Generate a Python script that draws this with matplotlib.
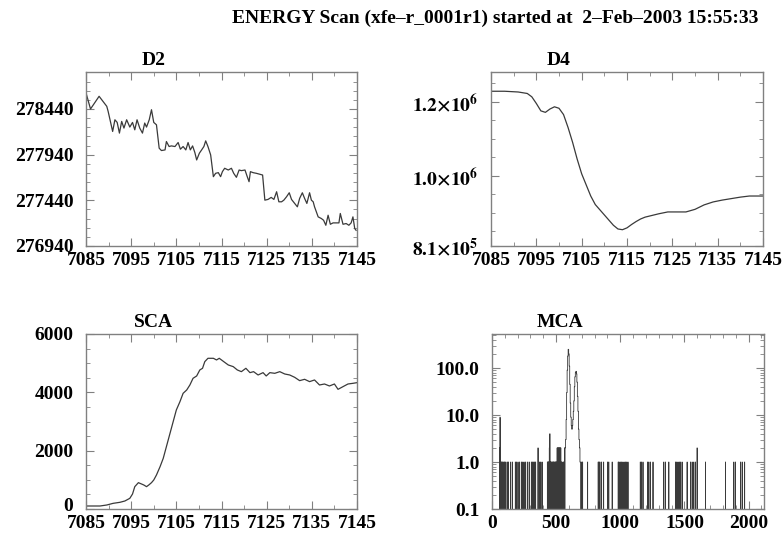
import numpy as np
import matplotlib
matplotlib.use("Agg")
import matplotlib.pyplot as plt
import matplotlib.transforms as mtransforms
from matplotlib.ticker import MultipleLocator, FixedLocator, FixedFormatter, LogLocator, NullFormatter

plt.rcParams["font.family"] = ["Liberation Serif", "DejaVu Serif"]
plt.rcParams["font.weight"] = "bold"
plt.rcParams["mathtext.fontset"] = "stix"

# -----------------------------
# Data
# -----------------------------
d2_energy = [7085.0, 7086.0, 7087.9, 7089.6, 7089.9, 7090.9, 7091.4, 7091.9, 7092.4, 7092.9,
             7093.4, 7094.0, 7094.7, 7095.3, 7095.8, 7096.3, 7096.9, 7097.5, 7098.0, 7098.4,
             7099.0, 7099.5, 7100.0, 7100.6, 7101.2, 7101.7, 7102.5, 7102.8, 7103.4, 7103.9,
             7104.7, 7105.4, 7105.9, 7106.5, 7107.1, 7107.6, 7108.1, 7108.6, 7109.1, 7109.5,
             7110.1, 7110.6, 7111.1, 7111.5, 7112.0, 7112.6, 7113.2, 7113.7, 7114.3, 7114.8,
             7115.2, 7115.7, 7116.5, 7117.2, 7117.7, 7118.3, 7118.9, 7119.4, 7120.2, 7120.7,
             7121.1, 7121.4, 7122.0, 7122.7, 7123.3, 7124.1, 7124.6, 7125.3, 7126.0, 7126.6,
             7127.2, 7127.7, 7128.3, 7128.8, 7129.4, 7130.0, 7130.5, 7131.2, 7131.8, 7132.3,
             7132.9, 7133.4, 7133.9, 7134.5, 7134.9, 7135.3, 7135.6, 7136.4, 7137.1, 7137.6,
             7138.1, 7138.6, 7139.1, 7139.7, 7140.4, 7141.0, 7141.3, 7141.9, 7142.6, 7143.2,
             7143.7, 7144.1, 7144.5, 7144.8]
d2_counts = [278616, 278440, 278579, 278469, 278414, 278194, 278322, 278293, 278176, 278304,
             278231, 278322, 278242, 278293, 278212, 278322, 278231, 278176, 278286, 278242,
             278322, 278432, 278293, 278267, 278011, 277985, 277992, 278084, 278029, 278036,
             278029, 278073, 278000, 278029, 277992, 278073, 277992, 278036, 277963, 277882,
             277956, 277992, 278029, 278091, 278029, 277937, 277699, 277736, 277743, 277699,
             277754, 277791, 277772, 277791, 277736, 277692, 277772, 277765, 277772, 277699,
             277644, 277754, 277743, 277736, 277728, 277717, 277442, 277450, 277472, 277450,
             277534, 277424, 277424, 277442, 277479, 277523, 277450, 277406, 277369, 277461,
             277523, 277461, 277406, 277523, 277442, 277424, 277369, 277259, 277241, 277222,
             277167, 277277, 277178, 277193, 277193, 277193, 277296, 277178, 277186, 277167,
             277193, 277259, 277131, 277112]

d4_energy = [7085, 7088, 7091, 7093, 7094, 7095, 7096, 7097, 7098, 7099,
             7100, 7101, 7102, 7103, 7104, 7105, 7106, 7107, 7108, 7109,
             7110, 7111, 7112, 7113, 7114, 7115, 7116, 7117, 7118, 7119,
             7120, 7122, 7124, 7126, 7128, 7130, 7132, 7134, 7136, 7138,
             7140, 7142, 7145]
d4_counts = [1.228e6, 1.228e6, 1.226e6, 1.222e6, 1.213e6, 1.195e6, 1.175e6, 1.171e6, 1.180e6, 1.186e6,
             1.182e6, 1.165e6, 1.130e6, 1.090e6, 1.045e6, 1.005e6, 0.975e6, 0.945e6, 0.922e6, 0.908e6,
             0.894e6, 0.880e6, 0.866e6, 0.856e6, 0.854e6, 0.859e6, 0.868e6, 0.876e6, 0.883e6, 0.888e6,
             0.891e6, 0.897e6, 0.902e6, 0.902e6, 0.902e6, 0.909e6, 0.921e6, 0.929e6, 0.934e6, 0.938e6,
             0.942e6, 0.945e6, 0.945e6]

sca_energy = [7085.0, 7088.1, 7089.6, 7091.0, 7092.5, 7093.6, 7094.7, 7095.3, 7095.8, 7096.6,
              7097.3, 7097.8, 7098.4, 7098.9, 7099.5, 7100.0, 7100.6, 7101.4, 7102.1, 7102.8,
              7103.6, 7104.3, 7105.0, 7105.8, 7106.5, 7107.3, 7108.0, 7108.7, 7109.5, 7110.2,
              7110.8, 7111.3, 7112.0, 7113.2, 7113.9, 7114.5, 7115.0, 7115.5, 7116.5, 7117.6,
              7118.5, 7119.4, 7120.4, 7121.3, 7122.1, 7123.1, 7124.2, 7124.9, 7125.7, 7126.8,
              7127.9, 7129.0, 7130.1, 7131.2, 7132.3, 7133.4, 7134.5, 7135.6, 7136.7, 7137.8,
              7138.9, 7140.0, 7140.8, 7141.9, 7143.0, 7144.1, 7145.0]
sca_counts = [103, 103, 137, 194, 229, 274, 366, 514, 766, 903,
              857, 823, 766, 823, 903, 994, 1166, 1452, 1737, 2137,
              2595, 2995, 3395, 3680, 3966, 4081, 4252, 4481, 4561, 4767,
              4824, 5052, 5167, 5167, 5110, 5167, 5110, 5052, 4938, 4881,
              4767, 4709, 4824, 4675, 4709, 4595, 4675, 4561, 4675, 4652,
              4709, 4629, 4595, 4515, 4401, 4447, 4367, 4424, 4252, 4286,
              4218, 4286, 4103, 4195, 4286, 4309, 4332]

# MCA spectrum: sparse channels with counts, plus the peak region read in 4-channel bins
mca_ones = [70, 75, 80, 86, 94, 100, 108, 120, 128, 146, 160, 182, 192, 203, 215, 229, 240,
            250, 262, 276, 290, 307, 316, 325, 333, 340, 372, 380, 391, 432, 436, 440, 443,
            456, 460, 466, 470, 476, 480, 484, 490, 494, 498, 502, 540, 545, 555, 560,
            700, 706, 745, 828, 834, 841, 854, 870, 901, 910, 937, 984, 990, 1000, 1010,
            1020, 1030, 1040, 1050, 1060, 1156, 1165, 1177, 1213, 1222, 1234, 1255, 1339,
            1352, 1378, 1430, 1440, 1450, 1460, 1470, 1482, 1521, 1547, 1560, 1573, 1586,
            1664, 1820, 1885, 1898, 1937, 1950, 1969]
mca_twos = [60, 359, 447, 508, 512, 516, 520, 524, 528, 532, 536, 565, 1599]
mca_fours = [451]
mca_nines = [63]
peak_start = 570
peak_counts = [2, 3, 8, 30, 90, 180, 250, 200, 110, 45, 18, 9, 6, 5, 6, 8,
               12, 20, 40, 65, 80, 85, 75, 50, 25, 12, 5, 3, 2, 1]

title = "ENERGY Scan (xfe\u2013r_0001r1) started at  2\u2013Feb\u20132003 15:55:33"

LINE = "#3a3a3a"
FRAME = "#808080"

fig = plt.figure(figsize=(7.83, 5.35), dpi=100)
fig.text(232 / 783, 1 - 18 / 535, title, ha="left", va="center", fontsize=14, fontweight="bold")

W, H = 783.0, 535.0
boxes = {
    "D2": (86, 72, 357, 246),
    "D4": (491, 72, 763, 246),
    "SCA": (86, 334, 357, 509),
    "MCA": (492, 334, 764, 509),
}


def make_axes(name):
    x0, y0, x1, y1 = boxes[name]
    ax = fig.add_axes([x0 / W, 1 - y1 / H, (x1 - x0) / W, (y1 - y0) / H])
    for s in ax.spines.values():
        s.set_color(FRAME)
        s.set_linewidth(1.0)
    ax.tick_params(which="both", direction="in", top=True, right=True, colors=FRAME,
                   labelcolor="black", labelsize=14)
    ax.tick_params(which="major", length=6, width=0.8)
    ax.tick_params(which="minor", length=3, width=0.6)
    ax.tick_params(axis="y", pad=9)
    ax.tick_params(axis="x", pad=4)
    ax.text(0.25, 1.065, name, transform=ax.transAxes, ha="center", va="center",
            fontsize=14, fontweight="bold")
    return ax


def energy_axis(ax):
    ax.set_xlim(7085, 7145)
    ax.xaxis.set_minor_locator(MultipleLocator(5))
    ax.set_xticks([7085, 7095, 7105, 7115, 7125, 7135, 7145])
    ax.set_xticklabels(["7085", "7095", "7105", "7115", "7125", "7135", "7145"])


# D2
ax = make_axes("D2")
ax.plot(d2_energy, d2_counts, color=LINE, lw=0.9)
energy_axis(ax)
ax.set_ylim(276940, 278845)
ax.set_yticks([276940, 277440, 277940, 278440])
ax.set_yticklabels(["276940", "277440", "277940", "278440"])
ax.yaxis.set_minor_locator(FixedLocator(np.arange(276940, 278845, 100)))

# D4
ax = make_axes("D4")
ax.plot(d4_energy, d4_counts, color=LINE, lw=0.9)
energy_axis(ax)
ax.set_ylim(810000, 1280000)
ax.set_yticks([810000, 1.0e6, 1.2e6])
ax.set_yticklabels([r"$\mathbf{8.1{\times}10^{5}}$", r"$\mathbf{1.0{\times}10^{6}}$",
                    r"$\mathbf{1.2{\times}10^{6}}$"])
ax.yaxis.set_minor_locator(MultipleLocator(50000))

# SCA
ax = make_axes("SCA")
ax.plot(sca_energy, sca_counts, color=LINE, lw=0.9)
energy_axis(ax)
ax.set_ylim(0, 6000)
ax.set_yticks([0, 2000, 4000, 6000])
ax.set_yticklabels(["0", "2000", "4000", "6000"])
ax.yaxis.set_minor_locator(MultipleLocator(500))
# nudge the "0" label up a little so it clears the 7085 label below it
zero_label = ax.get_yticklabels()[0]
zero_label.set_transform(zero_label.get_transform() +
                         mtransforms.ScaledTranslation(0, 3 / 72, fig.dpi_scale_trans))

# MCA
spectrum = np.zeros(2048)
spectrum[mca_ones] = 1
spectrum[mca_twos] = 2
spectrum[mca_fours] = 4
spectrum[mca_nines] = 9
spectrum[peak_start:peak_start + 4 * len(peak_counts)] = np.repeat(peak_counts, 4)
channels = np.arange(len(spectrum))

ax = make_axes("MCA")
ax.set_yscale("log", nonpositive="clip")
ax.step(channels, spectrum, where="mid", color=LINE, lw=0.6)
ax.set_xlim(0, 2120)
ax.set_ylim(0.1, 530)
ax.set_xticks([0, 500, 1000, 1500, 2000])
ax.set_xticklabels(["0", "500", "1000", "1500", "2000"])
ax.xaxis.set_minor_locator(MultipleLocator(100))
ax.yaxis.set_major_locator(FixedLocator([0.1, 1, 10, 100]))
ax.yaxis.set_major_formatter(FixedFormatter(["0.1", "1.0", "10.0", "100.0"]))
ax.yaxis.set_minor_locator(LogLocator(base=10, subs=np.arange(2, 10)))
ax.yaxis.set_minor_formatter(NullFormatter())

fig.savefig("out.png", dpi=100)
